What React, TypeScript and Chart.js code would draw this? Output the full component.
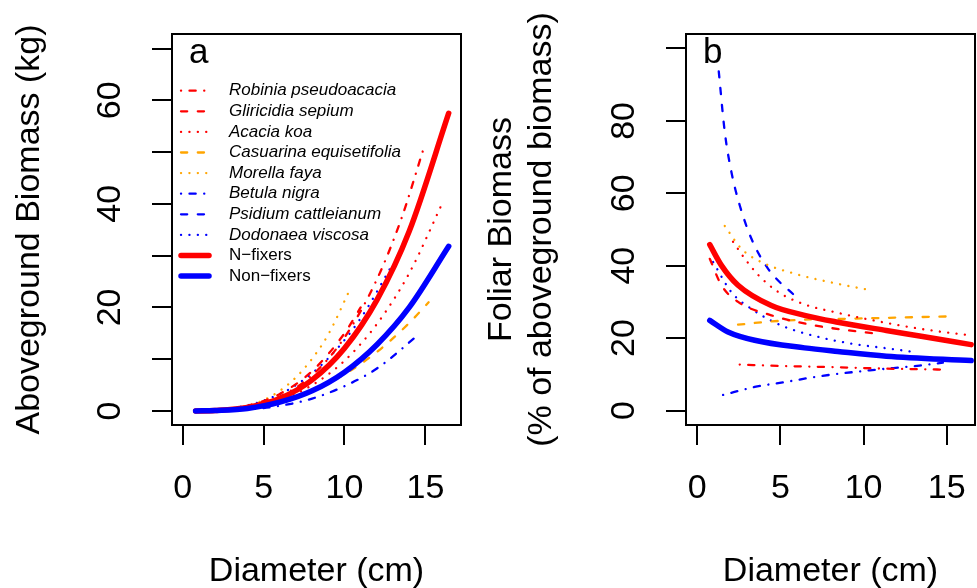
import React, { useEffect, useRef } from "react";
import { Chart, registerables } from "chart.js";

Chart.register(...registerables);

// ---------- DATA ----------
const seriesNames = [
  "Robinia pseudoacacia",
  "Gliricidia sepium",
  "Acacia koa",
  "Casuarina equisetifolia",
  "Morella faya",
  "Betula nigra",
  "Psidium cattleianum",
  "Dodonaea viscosa",
  "N\u2212fixers",
  "Non\u2212fixers",
];

// Panel a: aboveground biomass (kg) vs diameter (cm)  [D, kg]
const robiniaBiomass = [[2.6, 0.2], [4, 0.8], [6, 2.8], [8, 6.9], [10, 14.2], [12, 25.4], [13.5, 37], [14.9, 50.8]];
const gliricidiaBiomass = [[0.8, 0], [2, 0.1], [4, 1.0], [6, 3.3], [8, 7.7], [10, 15], [11, 20]];
const acaciaBiomass = [[2.3, 0.1], [4, 0.6], [6, 2.1], [8, 5.0], [10, 9.7], [12, 16.8], [14, 26.6], [16.1, 40.5]];
const casuarinaBiomass = [[2.5, 0.2], [4, 0.7], [6, 1.9], [8, 4.0], [10, 7.1], [12, 11.4], [14, 17], [15.2, 21]];
const morellaBiomass = [[1.7, 0.1], [3, 0.4], [4, 1.0], [5, 2.1], [6, 3.9], [7, 6.5], [8, 10.1], [9, 14.8], [10.4, 23.9]];
const betulaBiomass = [[1.6, 0], [4, 0.3], [6, 1.0], [8, 2.4], [10, 4.8], [12, 8.2], [14.6, 14.8]];
const psidiumBiomass = [[1.3, 0], [2, 0.1], [3, 0.3], [4, 0.6], [5, 1.1], [6.1, 1.8]];
const dodonaeaBiomass = [[1.0, 0], [3, 0.5], [5, 2.0], [7, 5.0], [9, 10.2], [11, 17.9], [13, 28.5]];
const nFixerBiomass = [[0.8, 0], [2, 0.1], [4, 0.7], [6, 2.4], [8, 6.0], [10, 12.1], [12, 21.4], [14, 34.7], [16.44, 57.5]];
const nonFixerBiomass = [[0.8, 0], [2, 0.1], [4, 0.5], [6, 1.7], [8, 3.9], [10, 7.5], [12, 12.8], [14, 20], [16.44, 31.8]];

// Panel b: foliar biomass (% of aboveground biomass) vs diameter  [D, %]
const robiniaFoliar = [[2.55, 12.7], [5, 12.3], [8, 12.0], [11, 11.6], [14.77, 11.3]];
const gliricidiaFoliar = [[0.75, 41.9], [1.45, 34.6], [2.45, 30.0], [4.45, 26.3], [7.05, 23.5], [9.37, 22.0], [10.9, 21.2]];
const acaciaFoliar = [[2.15, 46.6], [2.85, 42], [3.65, 37.5], [4.85, 32.8], [6.45, 29.3], [8.25, 27.2], [10.37, 25.1], [13.37, 22.6], [16.17, 20.9]];
const casuarinaFoliar = [[2.45, 23.7], [4.45, 24.6], [7.05, 25.2], [8.57, 25.3], [11.37, 25.6], [15.17, 26.0]];
const morellaFoliar = [[1.65, 51], [2.65, 44.7], [3.85, 41], [5.85, 37.8], [8.45, 35], [10.47, 33.2]];
const betulaFoliar = [[1.55, 4.3], [3.45, 6.5], [5.45, 8.0], [7.4, 9.5], [10.37, 11.1], [13.37, 12.4], [14.77, 13.2]];
const psidiumFoliar = [[1.29, 93.7], [1.65, 77], [2.05, 65.9], [2.55, 56.7], [3.25, 47.5], [4.25, 39.2], [6.05, 30.9]];
const dodonaeaFoliar = [[0.95, 41], [2.05, 32.7], [3.25, 28.1], [5.05, 23.5], [7.4, 20.2], [9.37, 18.4], [11.37, 17.2], [13.17, 16.1]];
const nFixerFoliar = [[0.75, 45.8], [1.45, 40.1], [2.45, 34.6], [4.45, 29.0], [6.45, 26.3], [8.45, 24.4], [11.37, 22.1], [13.37, 20.6], [16.47, 18.2]];
const nonFixerFoliar = [[0.75, 24.9], [1.85, 21.7], [3.45, 19.4], [6.45, 17.3], [8.45, 16.3], [11.37, 15.0], [16.47, 13.8]];

// Axis ticks
const xTicks = [0, 5, 10, 15];
const xTickLabels = ["0", "5", "10", "15"];
const yTicksA = [0, 10, 20, 30, 40, 50, 60, 70];
const yTickLabelsA = ["0", "", "20", "", "40", "", "60", ""];
const yTicksB = [0, 20, 40, 60, 80, 100];
const yTickLabelsB = ["0", "20", "40", "60", "80", ""];

// ---------- STYLES ----------
const RED = "#FF0000";
const ORANGE = "#FFA500";
const BLUE = "#0000FF";
const THIN = 2.3;
const THICK = 5.5;
const DOTDASH = [0.1, 8.4, 6.2, 8.5];
const DASHED = [6.2, 10.6];
const DOTTED = [0.1, 8.3];
const SOLID: number[] = [];

const seriesStyles = [
  { color: RED, dash: DOTDASH, width: THIN, italic: true },
  { color: RED, dash: DASHED, width: THIN, italic: true },
  { color: RED, dash: DOTTED, width: THIN, italic: true },
  { color: ORANGE, dash: DASHED, width: THIN, italic: true },
  { color: ORANGE, dash: DOTTED, width: THIN, italic: true },
  { color: BLUE, dash: DOTDASH, width: THIN, italic: true },
  { color: BLUE, dash: DASHED, width: THIN, italic: true },
  { color: BLUE, dash: DOTTED, width: THIN, italic: true },
  { color: RED, dash: SOLID, width: THICK, italic: false },
  { color: BLUE, dash: SOLID, width: THICK, italic: false },
];

const FONT = '"Liberation Sans", Arial, Helvetica, sans-serif';
Chart.defaults.font.family = FONT;
Chart.defaults.color = "#000";

function makeDatasets(seriesData: number[][][]) {
  return seriesData.map((pts, i) => {
    const st = seriesStyles[i];
    return {
      label: seriesNames[i],
      data: pts.map(([x, y]) => ({ x, y })),
      borderColor: st.color,
      backgroundColor: st.color,
      borderWidth: st.width,
      borderDash: st.dash,
      borderCapStyle: "round",
      borderJoinStyle: "round",
      pointRadius: 0,
      fill: false,
      cubicInterpolationMode: "monotone",
      order: i === 9 ? 0 : i === 8 ? 1 : 2 + i,
    };
  });
}

function decorPlugin(letter: string, showLegend: boolean) {
  return {
    id: "decor" + letter,
    afterDatasetsDraw(chart: any) {
      const { ctx, chartArea: a } = chart;
      ctx.save();
      ctx.setLineDash([]);
      ctx.strokeStyle = "#000";
      ctx.lineWidth = 2;
      ctx.strokeRect(a.left, a.top, a.right - a.left, a.bottom - a.top);
      ctx.fillStyle = "#000";
      ctx.font = `35px ${FONT}`;
      ctx.textAlign = "left";
      ctx.textBaseline = "alphabetic";
      ctx.fillText(letter, a.left + 17, a.top + 29.3);
      if (showLegend) {
        seriesNames.forEach((name, i) => {
          const st = seriesStyles[i];
          const y = a.top + 56.7 + i * 20.6;
          ctx.save();
          ctx.strokeStyle = st.color;
          ctx.lineWidth = st.width;
          ctx.lineCap = "round";
          ctx.setLineDash(st.dash);
          ctx.beginPath();
          ctx.moveTo(a.left + 9, y);
          ctx.lineTo(a.left + 37, y);
          ctx.stroke();
          ctx.restore();
          ctx.fillStyle = "#000";
          ctx.font = `${st.italic ? "italic " : ""}17px ${FONT}`;
          ctx.textAlign = "left";
          ctx.textBaseline = "middle";
          ctx.fillText(name, a.left + 57, y);
        });
      }
      ctx.restore();
    },
  };
}

function makeConfig(opts: {
  datasets: any[];
  xMin: number; xMax: number; yMin: number; yMax: number;
  yTicks: number[]; yLabels: string[];
  yTitle: string | string[]; yTitlePad: number;
  yWidth: number; rightPad: number;
  letter: string; legend: boolean;
}) {
  return {
    type: "line",
    data: { datasets: opts.datasets },
    options: {
      animation: false,
      responsive: false,
      maintainAspectRatio: false,
      devicePixelRatio: 1,
      layout: { padding: { top: 34, right: opts.rightPad, left: 0, bottom: 0 } },
      plugins: { legend: { display: false }, tooltip: { enabled: false } },
      scales: {
        x: {
          type: "linear",
          position: "bottom",
          min: opts.xMin,
          max: opts.xMax,
          afterBuildTicks: (s: any) => { s.ticks = xTicks.map((v) => ({ value: v })); },
          afterFit: (s: any) => {
            s.height = 175;
            s.paddingLeft = 0; s.paddingRight = 0; s.paddingTop = 0; s.paddingBottom = 0;
          },
          grid: { display: true, drawOnChartArea: false, drawTicks: true, tickLength: 20, tickWidth: 2, tickColor: "#000", color: "#000", lineWidth: 2 },
          border: { display: false },
          ticks: {
            font: { size: 34 },
            color: "#000",
            padding: 22.9,
            maxRotation: 0,
            minRotation: 0,
            autoSkip: false,
            callback: (_v: any, i: number) => xTickLabels[i],
          },
          title: { display: true, text: "Diameter (cm)", font: { size: 34 }, color: "#000", padding: { top: 0, bottom: 8 } },
        },
        y: {
          type: "linear",
          position: "left",
          min: opts.yMin,
          max: opts.yMax,
          afterBuildTicks: (s: any) => { s.ticks = opts.yTicks.map((v) => ({ value: v })); },
          afterFit: (s: any) => {
            s.width = opts.yWidth;
            s.paddingLeft = 0; s.paddingRight = 0; s.paddingTop = 0; s.paddingBottom = 0;
          },
          grid: { display: true, drawOnChartArea: false, drawTicks: true, tickLength: 20, tickWidth: 2, tickColor: "#000", color: "#000", lineWidth: 2 },
          border: { display: false },
          ticks: {
            font: { size: 34 },
            color: "#000",
            padding: 22.1,
            minRotation: 90,
            maxRotation: 90,
            crossAlign: "center",
            autoSkip: false,
            callback: (_v: any, i: number) => opts.yLabels[i],
          },
          title: { display: true, text: opts.yTitle, font: { size: 34, lineHeight: 1.2 }, color: "#000", padding: { top: opts.yTitlePad, bottom: 0 } },
        },
      },
    },
    plugins: [decorPlugin(opts.letter, opts.legend)],
  };
}

export default function App() {
  const refA = useRef<HTMLCanvasElement>(null);
  const refB = useRef<HTMLCanvasElement>(null);

  useEffect(() => {
    const cfgA = makeConfig({
      datasets: makeDatasets([
        robiniaBiomass, gliricidiaBiomass, acaciaBiomass, casuarinaBiomass, morellaBiomass,
        betulaBiomass, psidiumBiomass, dodonaeaBiomass, nFixerBiomass, nonFixerBiomass,
      ]),
      xMin: -0.66, xMax: 17.2, yMin: -2.7, yMax: 72.8,
      yTicks: yTicksA, yLabels: yTickLabelsA,
      yTitle: "Aboveground Biomass (kg)", yTitlePad: 9.6,
      yWidth: 172, rightPad: 27, letter: "a", legend: true,
    });
    const cfgB = makeConfig({
      datasets: makeDatasets([
        robiniaFoliar, gliricidiaFoliar, acaciaFoliar, casuarinaFoliar, morellaFoliar,
        betulaFoliar, psidiumFoliar, dodonaeaFoliar, nFixerFoliar, nonFixerFoliar,
      ]),
      xMin: -0.68, xMax: 16.7, yMin: -4, yMax: 104,
      yTicks: yTicksB, yLabels: yTickLabelsB,
      yTitle: ["Foliar Biomass", "(% of aboveground biomass)"], yTitlePad: 10.9,
      yWidth: 216, rightPad: 2, letter: "b", legend: false,
    });
    const a = new Chart(refA.current as HTMLCanvasElement, cfgA as any);
    const b = new Chart(refB.current as HTMLCanvasElement, cfgB as any);
    return () => { a.destroy(); b.destroy(); };
  }, []);

  return (
    <div style={{ position: "absolute", left: 0, top: 0, width: 977, height: 588, overflow: "hidden", background: "#fff" }}>
      <canvas ref={refA} width={488} height={600} style={{ position: "absolute", left: 0, top: 0, width: 488, height: 600 }} />
      <canvas ref={refB} width={507} height={600} style={{ position: "absolute", left: 470, top: 0, width: 507, height: 600 }} />
    </div>
  );
}
